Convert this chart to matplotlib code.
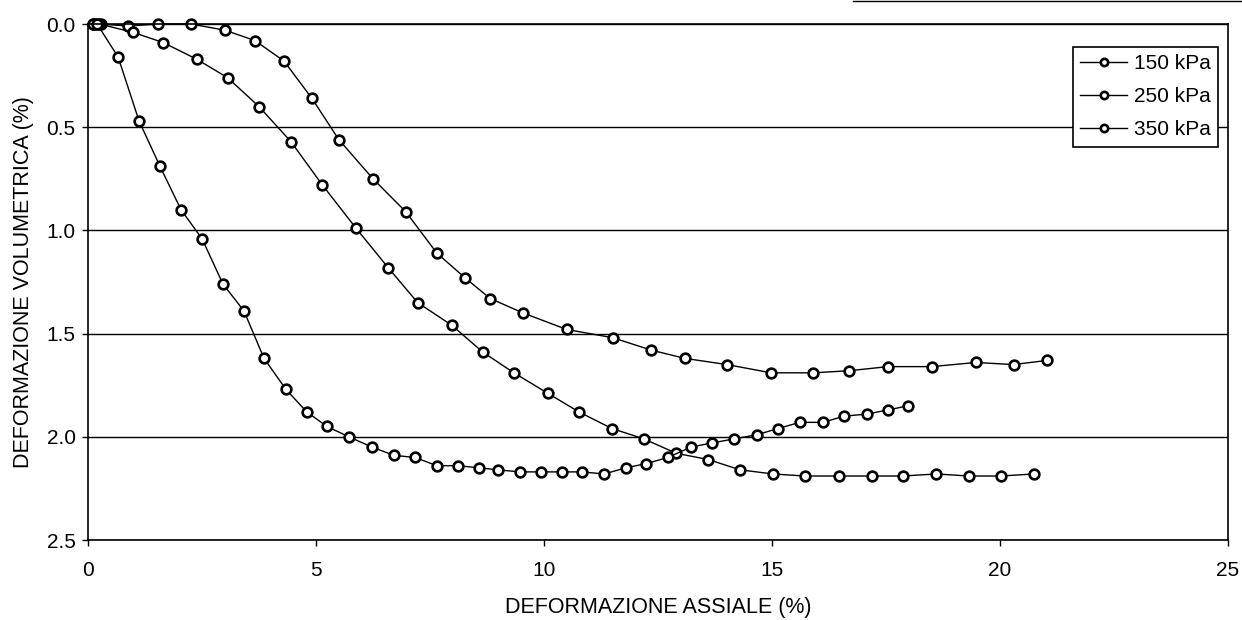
import matplotlib.pyplot as plt
from matplotlib.lines import Line2D

plt.rcParams['font.family'] = ['Liberation Sans', 'DejaVu Sans']

# deformazione assiale (%) e volumetrica (%) per ogni pressione di confinamento
ea_150 = [0.15, 0.28, 0.88, 1.53, 2.26, 3.0, 3.66, 4.3, 4.91, 5.5, 6.25, 6.97, 7.65, 8.27,
          8.82, 9.54, 10.5, 11.51, 12.35, 13.09, 14.01, 14.98, 15.9, 16.69, 17.54, 18.5,
          19.47, 20.3, 21.03]
ev_150 = [0.0, 0.0, 0.01, 0.0, 0.0, 0.03, 0.08, 0.18, 0.36, 0.56, 0.75, 0.91, 1.11, 1.23,
          1.33, 1.40, 1.48, 1.52, 1.58, 1.62, 1.65, 1.69, 1.69, 1.68, 1.66, 1.66,
          1.64, 1.65, 1.63]

ea_250 = [0.12, 0.25, 0.98, 1.65, 2.38, 3.06, 3.75, 4.45, 5.14, 5.88, 6.58, 7.23, 7.98,
          8.66, 9.34, 10.09, 10.77, 11.49, 12.19, 12.9, 13.6, 14.3, 15.02, 15.72, 16.47,
          17.19, 17.87, 18.6, 19.32, 20.02, 20.74]
ev_250 = [0.0, 0.0, 0.04, 0.09, 0.17, 0.26, 0.40, 0.57, 0.78, 0.99, 1.18, 1.35, 1.46,
          1.59, 1.69, 1.79, 1.88, 1.96, 2.01, 2.08, 2.11, 2.16, 2.18, 2.19, 2.19,
          2.19, 2.19, 2.18, 2.19, 2.19, 2.18]

ea_350 = [0.1, 0.2, 0.66, 1.12, 1.58, 2.04, 2.5, 2.96, 3.42, 3.86, 4.34, 4.80, 5.24, 5.72,
          6.23, 6.71, 7.17, 7.65, 8.11, 8.57, 8.99, 9.47, 9.93, 10.39, 10.83, 11.32,
          11.80, 12.24, 12.72, 13.22, 13.68, 14.17, 14.67, 15.13, 15.61, 16.12, 16.58,
          17.08, 17.54, 17.98]
ev_350 = [0.0, 0.0, 0.16, 0.47, 0.69, 0.90, 1.04, 1.26, 1.39, 1.62, 1.77, 1.88, 1.95, 2.0,
          2.05, 2.09, 2.10, 2.14, 2.14, 2.15, 2.16, 2.17, 2.17, 2.17, 2.17, 2.18,
          2.15, 2.13, 2.10, 2.05, 2.03, 2.01, 1.99, 1.96, 1.93, 1.93, 1.90,
          1.89, 1.87, 1.85]

serie = [(ea_150, ev_150, '150 kPa'),
         (ea_250, ev_250, '250 kPa'),
         (ea_350, ev_350, '350 kPa')]

fig = plt.figure(figsize=(12.42, 6.2), dpi=100)
ax = fig.add_axes([88 / 1242, 1 - 540 / 620, 1140 / 1242, 516 / 620])

for x, y, nome in serie:
    ax.plot(x, y, color='black', linewidth=1.0, marker='o', markersize=7,
            markerfacecolor='white', markeredgecolor='black', markeredgewidth=1.9,
            label=nome, clip_on=False)

ax.set_xlim(0, 25)
ax.set_ylim(2.5, 0)
ax.set_xticks([0, 5, 10, 15, 20, 25])
ax.set_yticks([0.0, 0.5, 1.0, 1.5, 2.0, 2.5])
ax.set_yticklabels(['0.0', '0.5', '1.0', '1.5', '2.0', '2.5'])
ax.tick_params(direction='out', length=4, width=1, labelsize=15, color='black')
ax.tick_params(axis='x', pad=11)
ax.tick_params(axis='y', pad=5)
ax.grid(axis='y', color='black', linewidth=1.0)
for s in ax.spines.values():
    s.set_linewidth(1.2)

ax.set_xlabel('DEFORMAZIONE ASSIALE (%)', fontsize=15.5, labelpad=12)
ax.set_ylabel('DEFORMAZIONE VOLUMETRICA (%)', fontsize=15.5, labelpad=9)

leg = ax.legend(loc='upper right', bbox_to_anchor=(1 - 10 / 1140, 1 - 23 / 516),
                borderaxespad=0, fontsize=15, handlelength=2.25, handletextpad=0.34,
                labelspacing=0.68, markerscale=0.75, fancybox=False, framealpha=1,
                borderpad=0.34)
leg.get_frame().set_edgecolor('black')
leg.get_frame().set_linewidth(1.2)

# filetto in alto a destra
fig.add_artist(Line2D([853 / 1242, 1.0], [1 - 1 / 620, 1 - 1 / 620],
                      color='black', linewidth=1.0))

fig.savefig('out.png', dpi=100)
